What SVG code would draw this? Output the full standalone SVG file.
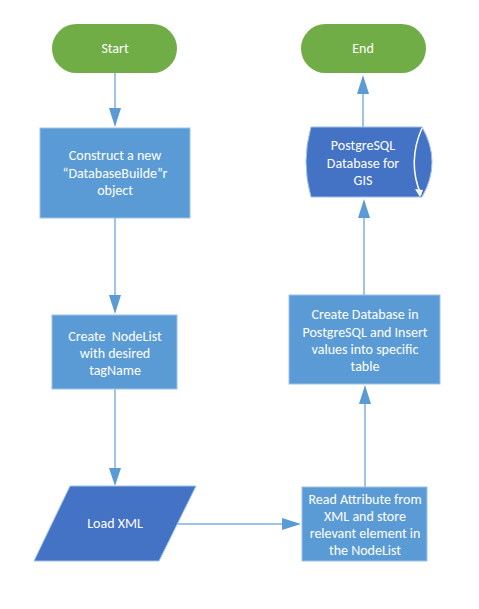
<svg xmlns="http://www.w3.org/2000/svg" width="479" height="609" viewBox="0 0 479 609">
<style>
.t{font-family:Calibri,Carlito,"Liberation Sans",Arial,sans-serif;font-size:14px;fill:#ffffff;text-anchor:middle}
.box{fill:#5B9BD5;stroke:#9DC3E6;stroke-width:1}
.dark{fill:#4472C4;stroke:#9DC3E6;stroke-width:1}
.term{fill:#70AD47}
.c{stroke:#9DC3E6;stroke-width:2;fill:none}
.ah{fill:#5B9BD5}
</style>
<rect width="479" height="609" fill="#ffffff"/>
<g id="connectors">
<line class="c" x1="115" y1="73" x2="115" y2="110"/>
<polygon class="ah" points="109,108 121,108 115,127"/>
<line class="c" x1="115" y1="218" x2="115" y2="297"/>
<polygon class="ah" points="109,295 121,295 115,314"/>
<line class="c" x1="115" y1="389" x2="115" y2="470"/>
<polygon class="ah" points="109,468 121,468 115,486"/>
<line class="c" x1="177" y1="524" x2="284" y2="524"/>
<polygon class="ah" points="282,518 282,530 301,524"/>
<line class="c" x1="365" y1="487" x2="365" y2="402"/>
<polygon class="ah" points="359,404 371,404 365,385"/>
<line class="c" x1="364" y1="295" x2="364" y2="217"/>
<polygon class="ah" points="358,218 370,218 364,199"/>
<line class="c" x1="363" y1="127" x2="363" y2="92"/>
<polygon class="ah" points="357,94 369,94 363,75"/>
</g>
<g id="start">
<rect class="term" x="52" y="24" width="125" height="49" rx="24.5"/>
<text class="t" x="115" y="53">Start</text>
</g>
<g id="construct">
<rect class="box" x="40" y="128" width="150" height="90"/>
<text class="t" x="115" y="160">Construct a new</text>
<text class="t" x="115" y="178">“DatabaseBuilde”r</text>
<text class="t" x="115" y="195">object</text>
</g>
<g id="nodelist">
<rect class="box" x="52" y="315" width="125" height="74"/>
<text class="t" x="115" y="341" xml:space="preserve">Create  NodeList</text>
<text class="t" x="115" y="358">with desired</text>
<text class="t" x="115" y="375">tagName</text>
</g>
<g id="loadxml">
<polygon class="dark" points="70,486 196,486 159,561 34,561"/>
<text class="t" x="115" y="528">Load XML</text>
</g>
<g id="readattr">
<rect class="box" x="302" y="487" width="125" height="74"/>
<text class="t" x="365" y="504">Read Attribute from</text>
<text class="t" x="365" y="521">XML and store</text>
<text class="t" x="365" y="538">relevant element in</text>
<text class="t" x="365" y="555">the NodeList</text>
</g>
<g id="createdb">
<rect class="box" x="289" y="295" width="151" height="89"/>
<text class="t" x="365" y="319">Create Database in</text>
<text class="t" x="365" y="337">PostgreSQL and Insert</text>
<text class="t" x="365" y="354">values into specific</text>
<text class="t" x="365" y="371">table</text>
</g>
<g id="database">
<path class="dark" d="M311,127 L422,127 Q442,162 422,197 L311,197 Q301,162 311,127 Z"/>
<path d="M422,128 Q407,162 421,195" fill="none" stroke="#ffffff" stroke-width="1.5"/>
<polygon points="415,189 423,190 420,197" fill="#ffffff"/>
<text class="t" x="363" y="150">PostgreSQL</text>
<text class="t" x="363" y="168">Database for</text>
<text class="t" x="363" y="185">GIS</text>
</g>
<g id="end">
<rect class="term" x="301" y="24" width="125" height="49" rx="24.5"/>
<text class="t" x="363" y="53">End</text>
</g>
</svg>
